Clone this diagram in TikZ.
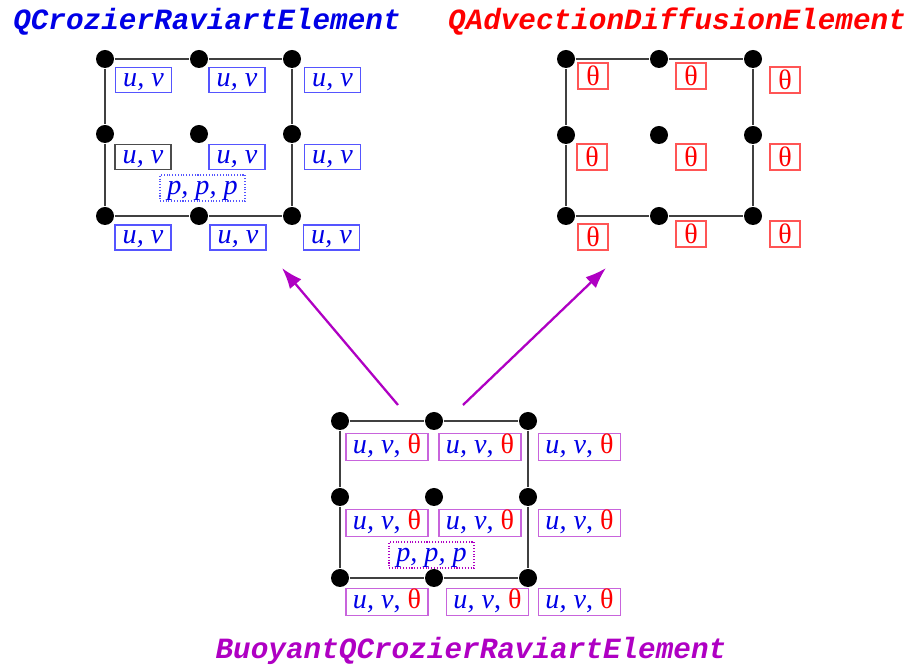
\documentclass[tikz,border=0pt]{standalone}
\usepackage{fontspec}
\setmainfont{Liberation Serif}
\newfontfamily\monotitle{Liberation Mono}
\usepackage{tikz}
\usetikzlibrary{arrows.meta}
\definecolor{velblue}{RGB}{0,0,230}
\definecolor{velframe}{RGB}{85,85,255}
\definecolor{tempred}{RGB}{255,0,0}
\definecolor{tempframe}{RGB}{255,85,85}
\definecolor{buoymag}{RGB}{175,0,195}
\definecolor{buoyframe}{RGB}{200,100,220}
\newcommand{\uvtxt}{\textit{u, v}}
\newcommand{\thtxt}{\textcolor{tempred}{θ}}

\begin{document}
\begin{tikzpicture}[thick]
        %
        % `knot' is a node of an element (black dots).
        % `uvbox', `thbox', `uvthbox' hold the values stored at a knot.
        % `pbox' is used for the pressure values (dotted).
        \tikzstyle{knot} = [fill=black,shape=circle,minimum size=0.36cm,inner sep=0pt]
        \tikzstyle{side} = [draw=black!75,line width=0.7pt]
        \tikzstyle{valbox} = [line width=0.6pt,inner sep=1pt,minimum height=0.5cm,text height=7.3pt,text depth=0pt,font=\fontsize{16}{18}\selectfont]
        \tikzstyle{uvbox} = [valbox,draw=velframe,text=velblue,minimum width=1.12cm]
        \tikzstyle{thbox} = [valbox,draw=tempframe,text=tempred,minimum width=0.6cm,minimum height=0.52cm,text height=11pt]
        \tikzstyle{uvthbox} = [valbox,draw=buoyframe,text=velblue,minimum width=1.64cm,minimum height=0.54cm]
        \tikzstyle{pbox} = [valbox,densely dotted,text=velblue,minimum width=1.7cm,minimum height=0.52cm]
        \tikzstyle{title} = [font=\monotitle\bfseries\itshape\fontsize{16.7}{20}\selectfont]
        \tikzstyle{inherit} = [draw=buoymag,line width=1.3pt,-{Latex[length=0.42cm,width=0.3cm]}]
        %
        \useasboundingbox (0,0) rectangle (18.18,-13.32);
        %
        % QCrozierRaviartElement
        \node[title,text=velblue] (crtitle) at (4.14,-0.44) {QCrozierRaviartElement};
        \node[knot] (cr11) at (2.10,-1.18) {};
        \node[knot] (cr12) at (3.98,-1.18) {};
        \node[knot] (cr13) at (5.84,-1.18) {};
        \node[knot] (cr21) at (2.10,-2.68) {};
        \node[knot] (cr22) at (3.98,-2.68) {};
        \node[knot] (cr23) at (5.84,-2.68) {};
        \node[knot] (cr31) at (2.10,-4.32) {};
        \node[knot] (cr32) at (3.98,-4.32) {};
        \node[knot] (cr33) at (5.84,-4.32) {};
        \draw[side] (cr11) -- (cr12) -- (cr13) -- (cr23) -- (cr33);
        \draw[side] (cr11) -- (cr21) -- (cr31) -- (cr32) -- (cr33);
        \node[uvbox] (cruv11) at (2.87,-1.60) {\uvtxt};
        \node[uvbox] (cruv12) at (4.74,-1.60) {\uvtxt};
        \node[uvbox] (cruv13) at (6.65,-1.60) {\uvtxt};
        \node[uvbox,draw=black!70] (cruv21) at (2.86,-3.14) {\uvtxt};
        \node[uvbox] (cruv22) at (4.74,-3.14) {\uvtxt};
        \node[uvbox] (cruv23) at (6.65,-3.14) {\uvtxt};
        \node[pbox,draw=velframe] (crp) at (4.05,-3.76) {\textit{p, p, p}};
        \node[uvbox] (cruv31) at (2.86,-4.75) {\uvtxt};
        \node[uvbox] (cruv32) at (4.76,-4.75) {\uvtxt};
        \node[uvbox] (cruv33) at (6.63,-4.75) {\uvtxt};
        %
        % QAdvectionDiffusionElement
        \node[title,text=tempred] (adtitle) at (13.54,-0.44) {QAdvectionDiffusionElement};
        \node[knot] (ad11) at (11.32,-1.18) {};
        \node[knot] (ad12) at (13.18,-1.18) {};
        \node[knot] (ad13) at (15.06,-1.18) {};
        \node[knot] (ad21) at (11.32,-2.70) {};
        \node[knot] (ad22) at (13.18,-2.70) {};
        \node[knot] (ad23) at (15.06,-2.70) {};
        \node[knot] (ad31) at (11.32,-4.32) {};
        \node[knot] (ad32) at (13.18,-4.32) {};
        \node[knot] (ad33) at (15.06,-4.32) {};
        \draw[side] (ad11) -- (ad12) -- (ad13) -- (ad23) -- (ad33);
        \draw[side] (ad11) -- (ad21) -- (ad31) -- (ad32) -- (ad33);
        \node[thbox] (adth11) at (11.86,-1.52) {θ};
        \node[thbox] (adth12) at (13.82,-1.52) {θ};
        \node[thbox] (adth13) at (15.70,-1.60) {θ};
        \node[thbox] (adth21) at (11.84,-3.14) {θ};
        \node[thbox] (adth22) at (13.82,-3.14) {θ};
        \node[thbox] (adth23) at (15.70,-3.14) {θ};
        \node[thbox] (adth31) at (11.86,-4.74) {θ};
        \node[thbox] (adth32) at (13.82,-4.68) {θ};
        \node[thbox] (adth33) at (15.70,-4.68) {θ};
        %
        % BuoyantQCrozierRaviartElement
        \node[knot] (bq11) at (6.80,-8.42) {};
        \node[knot] (bq12) at (8.68,-8.42) {};
        \node[knot] (bq13) at (10.56,-8.42) {};
        \node[knot] (bq21) at (6.80,-9.94) {};
        \node[knot] (bq22) at (8.68,-9.94) {};
        \node[knot] (bq23) at (10.56,-9.94) {};
        \node[knot] (bq31) at (6.80,-11.56) {};
        \node[knot] (bq32) at (8.68,-11.56) {};
        \node[knot] (bq33) at (10.56,-11.56) {};
        \draw[side] (bq11) -- (bq12) -- (bq13) -- (bq23) -- (bq33);
        \draw[side] (bq11) -- (bq21) -- (bq31) -- (bq32) -- (bq33);
        \node[uvthbox] (bquv11) at (7.74,-8.94) {\uvtxt, \thtxt};
        \node[uvthbox] (bquv12) at (9.60,-8.94) {\uvtxt, \thtxt};
        \node[uvthbox] (bquv13) at (11.59,-8.94) {\uvtxt, \thtxt};
        \node[uvthbox] (bquv21) at (7.74,-10.46) {\uvtxt, \thtxt};
        \node[uvthbox] (bquv22) at (9.60,-10.46) {\uvtxt, \thtxt};
        \node[uvthbox] (bquv23) at (11.59,-10.46) {\uvtxt, \thtxt};
        \node[pbox,draw=buoymag] (bqp) at (8.63,-11.10) {\textit{p, p, p}};
        \node[uvthbox] (bquv31) at (7.74,-12.04) {\uvtxt, \thtxt};
        \node[uvthbox] (bquv32) at (9.75,-12.04) {\uvtxt, \thtxt};
        \node[uvthbox] (bquv33) at (11.59,-12.04) {\uvtxt, \thtxt};
        \node[title,text=buoymag] (bqtitle) at (9.42,-13.02) {BuoyantQCrozierRaviartElement};
        %
        % Arrows
        \coordinate (fromcr) at (7.96,-8.10);
        \coordinate (tocr) at (5.64,-5.36);
        \coordinate (fromad) at (9.26,-8.10);
        \coordinate (toad) at (12.12,-5.36);
        \draw[inherit] (fromcr) -- (tocr);
        \draw[inherit] (fromad) -- (toad);
        %
\end{tikzpicture}
\end{document}
